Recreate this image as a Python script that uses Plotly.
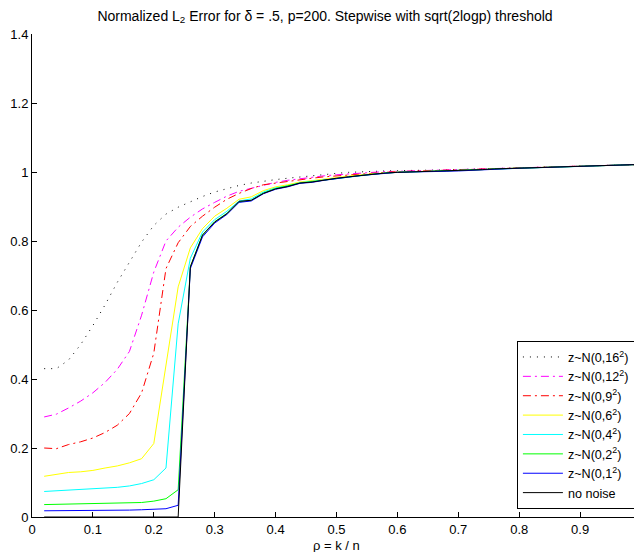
import plotly.graph_objects as go

# rho = k / n grid
rho = [0.02, 0.04, 0.06, 0.08, 0.10, 0.12, 0.14, 0.16, 0.18, 0.20,
       0.22, 0.24, 0.26, 0.28, 0.30, 0.32, 0.34, 0.36, 0.38, 0.40,
       0.42, 0.44, 0.46, 0.48, 0.50, 0.52, 0.54, 0.56, 0.58, 0.60,
       0.62, 0.64, 0.66, 0.68, 0.70, 0.72, 0.74, 0.76, 0.78, 0.80,
       0.82, 0.84, 0.86, 0.88, 0.90, 0.92, 0.94, 0.96, 0.98, 1.00]

err_16 = [0.430, 0.430, 0.455, 0.500, 0.555, 0.615, 0.680, 0.740, 0.797, 0.845,
          0.878, 0.898, 0.914, 0.929, 0.942, 0.952, 0.961, 0.968, 0.974, 0.978,
          0.982, 0.986, 0.989, 0.993, 0.996, 0.999, 1.001, 1.002, 1.003, 1.004,
          1.004, 1.004, 1.005, 1.006, 1.007, 1.008, 1.009, 1.011, 1.012, 1.013,
          1.014, 1.015, 1.016, 1.017, 1.018, 1.018, 1.019, 1.020, 1.021, 1.022]

err_12 = [0.290, 0.298, 0.316, 0.336, 0.360, 0.390, 0.428, 0.480, 0.585, 0.710,
          0.800, 0.840, 0.869, 0.893, 0.912, 0.930, 0.944, 0.953, 0.961, 0.970,
          0.976, 0.981, 0.985, 0.989, 0.992, 0.995, 0.997, 0.999, 1.001, 1.002,
          1.003, 1.003, 1.004, 1.005, 1.006, 1.007, 1.009, 1.010, 1.012, 1.013,
          1.014, 1.015, 1.015, 1.016, 1.017, 1.018, 1.019, 1.020, 1.021, 1.022]

err_9 = [0.200, 0.198, 0.210, 0.218, 0.229, 0.245, 0.266, 0.300, 0.360, 0.475,
         0.720, 0.795, 0.842, 0.872, 0.898, 0.921, 0.938, 0.952, 0.963, 0.968,
         0.974, 0.978, 0.982, 0.986, 0.989, 0.992, 0.995, 0.997, 0.999, 1.001,
         1.002, 1.002, 1.003, 1.004, 1.005, 1.006, 1.008, 1.009, 1.011, 1.012,
         1.013, 1.014, 1.015, 1.016, 1.017, 1.018, 1.018, 1.019, 1.020, 1.022]

err_6 = [0.118, 0.124, 0.129, 0.131, 0.135, 0.142, 0.148, 0.157, 0.169, 0.213,
         0.440, 0.667, 0.780, 0.836, 0.872, 0.895, 0.921, 0.928, 0.946, 0.957,
         0.963, 0.971, 0.975, 0.980, 0.984, 0.988, 0.992, 0.995, 0.998, 1.000,
         1.001, 1.001, 1.002, 1.003, 1.004, 1.006, 1.008, 1.009, 1.010, 1.011,
         1.012, 1.013, 1.014, 1.015, 1.016, 1.017, 1.018, 1.019, 1.020, 1.022]

err_4 = [0.074, 0.076, 0.077, 0.079, 0.081, 0.083, 0.086, 0.090, 0.097, 0.108,
         0.142, 0.560, 0.750, 0.826, 0.862, 0.886, 0.916, 0.922, 0.942, 0.954,
         0.960, 0.969, 0.973, 0.978, 0.983, 0.987, 0.991, 0.994, 0.997, 0.999,
         1.000, 1.001, 1.002, 1.003, 1.004, 1.005, 1.007, 1.009, 1.010, 1.011,
         1.012, 1.013, 1.014, 1.015, 1.016, 1.017, 1.018, 1.019, 1.020, 1.022]

err_2 = [0.036, 0.037, 0.037, 0.038, 0.038, 0.039, 0.040, 0.041, 0.042, 0.046,
         0.053, 0.079, 0.725, 0.818, 0.856, 0.880, 0.913, 0.918, 0.939, 0.952,
         0.959, 0.968, 0.972, 0.977, 0.982, 0.987, 0.990, 0.994, 0.997, 0.999,
         1.000, 1.001, 1.001, 1.002, 1.003, 1.005, 1.007, 1.009, 1.010, 1.011,
         1.012, 1.013, 1.014, 1.015, 1.016, 1.017, 1.018, 1.019, 1.020, 1.022]

err_1 = [0.018, 0.018, 0.018, 0.019, 0.019, 0.019, 0.019, 0.020, 0.021, 0.022,
         0.024, 0.034, 0.720, 0.812, 0.852, 0.877, 0.912, 0.916, 0.937, 0.950,
         0.957, 0.967, 0.970, 0.976, 0.981, 0.985, 0.990, 0.993, 0.997, 0.999,
         1.000, 1.000, 1.001, 1.002, 1.003, 1.005, 1.007, 1.008, 1.010, 1.011,
         1.012, 1.013, 1.014, 1.015, 1.016, 1.017, 1.018, 1.019, 1.020, 1.022]

err_0 = [0.000, 0.000, 0.000, 0.000, 0.000, 0.000, 0.000, 0.000, 0.000, 0.000,
         0.000, 0.000, 0.725, 0.817, 0.855, 0.879, 0.915, 0.918, 0.938, 0.951,
         0.958, 0.968, 0.971, 0.977, 0.982, 0.986, 0.990, 0.994, 0.997, 0.999,
         1.000, 1.000, 1.001, 1.002, 1.003, 1.005, 1.007, 1.009, 1.010, 1.011,
         1.012, 1.013, 1.014, 1.015, 1.016, 1.017, 1.018, 1.019, 1.020, 1.022]

names = ['z~N(0,16<sup>2</sup>)', 'z~N(0,12<sup>2</sup>)', 'z~N(0,9<sup>2</sup>)',
         'z~N(0,6<sup>2</sup>)', 'z~N(0,4<sup>2</sup>)', 'z~N(0,2<sup>2</sup>)',
         'z~N(0,1<sup>2</sup>)', 'no noise']
series = [err_16, err_12, err_9, err_6, err_4, err_2, err_1, err_0]
colors = ['#000000', '#FF00FF', '#FF0000', '#FFFF00', '#00FFFF', '#00FF00', '#0000FF', '#000000']
dashes = ['1px,6px', '8px,4px,2px,4px', '8px,4px,2px,4px', 'solid', 'solid', 'solid', 'solid', 'solid']

FONT = 'Liberation Sans, Arial, sans-serif'

fig = go.Figure()
for name, ys, col, dsh in zip(names, series, colors, dashes):
    fig.add_trace(go.Scatter(x=rho, y=ys, mode='lines', name=name,
                             line=dict(color=col, width=1, dash=dsh)))

# page body has an 8px margin, so the figure is sized to fit the window
fig.update_layout(
    width=634, height=544,
    paper_bgcolor='white', plot_bgcolor='white',
    margin=dict(l=24, r=1, t=26, b=35, autoexpand=False),
    font=dict(family=FONT, size=13, color='black'),
    title=dict(text='Normalized L<sub>2</sub> Error for δ = .5, p=200. Stepwise with sqrt(2logp) threshold',
               x=0.5, xref='container', y=0.995, yanchor='top',
               font=dict(family=FONT, size=14, color='black')),
    legend=dict(x=0.99, xanchor='right', y=0.016, yanchor='bottom',
                bgcolor='white', bordercolor='black', borderwidth=1,
                itemwidth=40,
                font=dict(family=FONT, size=12.6, color='black'),
                tracegroupgap=0),
    showlegend=True,
    annotations=[dict(text='ρ = k / n', xref='paper', yref='paper', x=0.5, y=-0.058,
                      xanchor='center', yanchor='middle', showarrow=False,
                      font=dict(family=FONT, size=13, color='black'))],
)
fig.update_xaxes(range=[0, 1], dtick=0.1, tick0=0, ticks='inside', ticklen=5,
                 tickcolor='black', showline=True, linecolor='black', linewidth=1,
                 showgrid=False, zeroline=False, mirror=False, automargin=False,
                 ticklabeloverflow='allow')
fig.update_yaxes(range=[0, 1.4], dtick=0.2, tick0=0, ticks='inside', ticklen=5,
                 tickcolor='black', showline=True, linecolor='black', linewidth=1,
                 showgrid=False, zeroline=False, mirror=False, automargin=False)

fig.write_html("out.html")
